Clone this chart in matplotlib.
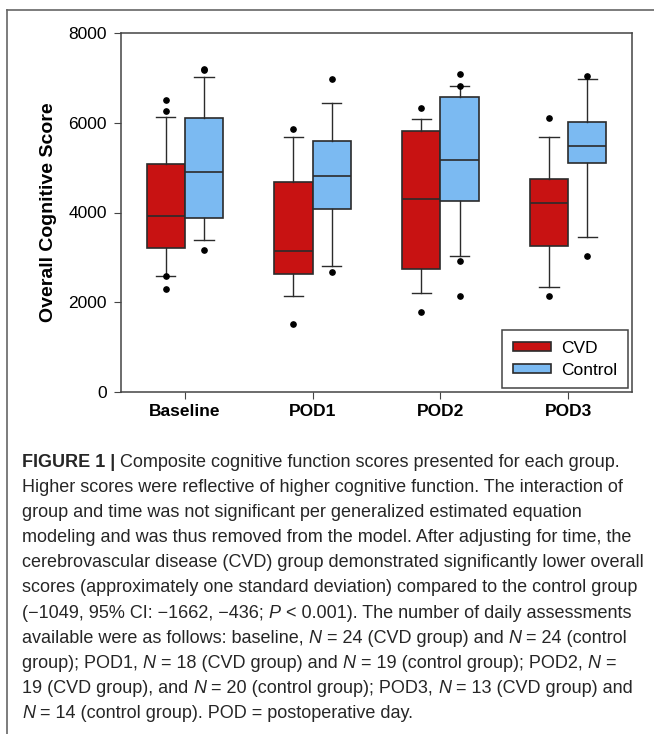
import matplotlib
matplotlib.use('Agg')
import matplotlib.pyplot as plt
from matplotlib import font_manager
from matplotlib.patches import Patch
from matplotlib.lines import Line2D

groups = ['Baseline', 'POD1', 'POD2', 'POD3']

# box stats (score units)
cvd_q1 = [3200, 2630, 2730, 3250]
cvd_med = [3915, 3140, 4290, 4220]
cvd_q3 = [5080, 4690, 5820, 4750]
cvd_lo = [2590, 2150, 2210, 2330]
cvd_hi = [6130, 5680, 6085, 5685]
cvd_out = [[6510, 6270, 2590, 2295], [5850, 1515], [6330, 1790], [6100, 2150]]

ctl_q1 = [3885, 4080, 4265, 5105]
ctl_med = [4900, 4805, 5165, 5485]
ctl_q3 = [6100, 5595, 6580, 6020]
ctl_lo = [3395, 2815, 3025, 3455]
ctl_hi = [7010, 6435, 6830, 6970]
ctl_out = [[7200, 7180, 3170], [6975, 2665], [7080, 6830, 2930, 2130], [7050, 3040]]

series = ['CVD', 'Control']
colors = ['#C81212', '#7BBAF2']

caption = [
    [('FIGURE 1 | ', 'b'), ('Composite cognitive function scores presented for each group.', 'r')],
    [('Higher scores were reflective of higher cognitive function. The interaction of', 'r')],
    [('group and time was not significant per generalized estimated equation', 'r')],
    [('modeling and was thus removed from the model. After adjusting for time, the', 'r')],
    [('cerebrovascular disease (CVD) group demonstrated significantly lower overall', 'r')],
    [('scores (approximately one standard deviation) compared to the control group', 'r')],
    [('(\u22121049, 95% CI: \u22121662, \u2212436; ', 'r'), ('P', 'i'),
     (' < 0.001). The number of daily assessments', 'r')],
    [('available were as follows: baseline, ', 'r'), ('N', 'i'), (' = 24 (CVD group) and ', 'r'),
     ('N', 'i'), (' = 24 (control', 'r')],
    [('group); POD1, ', 'r'), ('N', 'i'), (' = 18 (CVD group) and ', 'r'), ('N', 'i'),
     (' = 19 (control group); POD2, ', 'r'), ('N', 'i'), (' =', 'r')],
    [('19 (CVD group), and ', 'r'), ('N', 'i'), (' = 20 (control group); POD3, ', 'r'),
     ('N', 'i'), (' = 13 (CVD group) and', 'r')],
    [('N', 'i'), (' = 14 (control group). POD = postoperative day.', 'r')],
]

plt.rcParams['font.family'] = ['Liberation Sans', 'DejaVu Sans']

W, H = 654, 734
fig = plt.figure(figsize=(W / 100, H / 100), dpi=100)
ax = fig.add_axes([121 / W, 1 - 392 / H, 511 / W, 359 / H])


def stats(q1, med, q3, lo, hi, out):
    return [dict(q1=a, med=b, q3=c, whislo=d, whishi=e, fliers=f)
            for a, b, c, d, e, f in zip(q1, med, q3, lo, hi, out)]


edge = '#2b2b2b'
pos = list(range(len(groups)))
all_stats = [stats(cvd_q1, cvd_med, cvd_q3, cvd_lo, cvd_hi, cvd_out),
             stats(ctl_q1, ctl_med, ctl_q3, ctl_lo, ctl_hi, ctl_out)]
for k, st in enumerate(all_stats):
    off = -0.15 if k == 0 else 0.15
    ax.bxp(st, positions=[p + off for p in pos], widths=0.3, patch_artist=True,
           boxprops=dict(facecolor=colors[k], edgecolor=edge, linewidth=1.2),
           medianprops=dict(color=edge, linewidth=1.2),
           whiskerprops=dict(color=edge, linewidth=1.0),
           capprops=dict(color=edge, linewidth=1.0),
           flierprops=dict(marker='o', markerfacecolor='black', markeredgecolor='black',
                           markersize=3.8))

ax.set_xlim(-0.5, 3.5)
ax.set_ylim(0, 8000)
ax.set_yticks([0, 2000, 4000, 6000, 8000])
ax.set_xticks(pos)
ax.set_xticklabels(groups, fontsize=12.5, fontweight='bold')
ax.tick_params(axis='y', labelsize=12.5, length=5, color='#444', pad=5)
ax.tick_params(axis='x', length=5, color='#444', pad=4)
ax.set_ylabel('Overall Cognitive Score', fontsize=14, fontweight='bold', labelpad=8)
for s in ax.spines.values():
    s.set_color('#444')
    s.set_linewidth(1.1)

handles = [Patch(facecolor=colors[i], edgecolor=edge, linewidth=1.2) for i in range(2)]
leg = ax.legend(handles, series, loc='lower right', fontsize=12.5, fancybox=False,
                framealpha=1, edgecolor='#444', handlelength=2.2, handleheight=0.45,
                borderpad=0.6, labelspacing=0.4, handletextpad=0.6, borderaxespad=0,
                bbox_to_anchor=(1 - 4 / 511, 4 / 359))
leg.get_frame().set_linewidth(1.1)

# page frame (left and top edges)
fig.add_artist(Line2D([7 / W, 1], [1 - 10 / H, 1 - 10 / H], color='#666', lw=1.2))
fig.add_artist(Line2D([7 / W, 7 / W], [0, 1 - 10 / H], color='#666', lw=1.2))

# caption, drawn piece by piece so bold / italic runs line up
names = {f.name for f in font_manager.fontManager.ttflist}
cap_font = ['Liberation Sans Narrow', 'DejaVu Sans'] if 'Liberation Sans Narrow' in names \
    else ['Liberation Sans', 'DejaVu Sans']
renderer = fig.canvas.get_renderer()


def width(txt, size, weight='normal', style='normal'):
    t = fig.text(0, 0, txt, fontsize=size, family=cap_font, fontweight=weight, fontstyle=style)
    w = t.get_window_extent(renderer).width
    t.remove()
    return w


size = 13.0
target = 598.0
w2 = width(caption[1][0][0], size)
size = min(13.0, size * target / w2)

cap_color = '#262626'
x0 = 22
y0 = 467
for i, line in enumerate(caption):
    x = x0
    y = y0 + i * 25.1
    for txt, st in line:
        weight = 'bold' if st == 'b' else 'normal'
        style = 'italic' if st == 'i' else 'normal'
        sp = width('x x', size, weight, style) - width('xx', size, weight, style)
        core = txt.strip()
        x += (len(txt) - len(txt.lstrip())) * sp
        if core:
            fig.text(x / W, 1 - y / H, core, fontsize=size, family=cap_font,
                     fontweight=weight, fontstyle=style, color=cap_color, va='baseline')
            x += width(core, size, weight, style)
        x += (len(txt) - len(txt.rstrip())) * sp

fig.savefig('out.png', dpi=100)
